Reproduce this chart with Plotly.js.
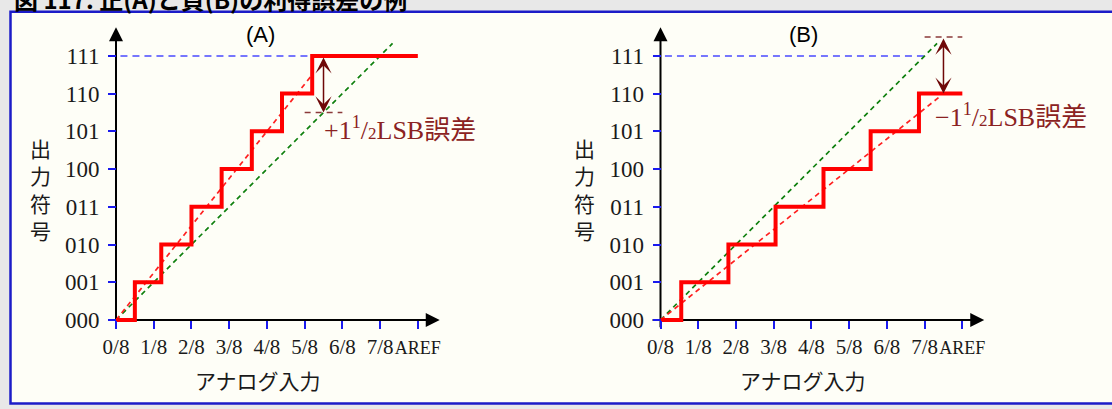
<!DOCTYPE html>
<html>
<head>
<meta charset="utf-8">
<script src="https://cdn.plot.ly/plotly-3.0.1.min.js"></script>
<style>html,body{margin:0;padding:0;background:#e8e8e8;}#chart{width:1112px;height:409px;}</style>
</head>
<body>
<div id="chart"></div>
<script>
// ---- data ----
const xTickVals = [0, 1, 2, 3, 4, 5, 6, 7, 8];
const xTickLabels = ['0/8', '1/8', '2/8', '3/8', '4/8', '5/8', '6/8', '7/8', '<span style="font-size:18px">AREF</span>'];
const codeVals = [0, 1, 2, 3, 4, 5, 6, 7];
const codeLabels = ['000', '001', '010', '011', '100', '101', '110', '111'];

// Panel A: positive gain error
const stepA_x = [0, 0.5, 1.2, 2.0, 2.8, 3.6, 4.4, 5.2, 8.0];
const stepA_code = [0, 1, 2, 3, 4, 5, 6, 7, 7];
const idealA_x = [0, 7.33];
const idealA_y = [0, 7.33];
const gainA_x = [0, 5.2];
const gainA_y = [0, 6.5];
const fullA_x = [-0.2, 5.2];
const fullA_y = [7, 7];
const errA_x = [5.0, 6.0];
const errA_y = [5.5, 5.5];
const errA_arrow = {x: 5.5, from: 7.0, to: 5.5};

// Panel B: negative gain error
const stepB_x = [0, 0.55, 1.8, 3.05, 4.32, 5.57, 6.85, 8.0];
const stepB_code = [0, 1, 2, 3, 4, 5, 6, 6];
const idealB_x = [0, 7.33];
const idealB_y = [0, 7.33];
const gainB_x = [0, 7.45];
const gainB_y = [0, 5.96];
const fullB_x = [-0.2, 7.0];
const fullB_y = [7, 7];
const errB_x = [7.0, 8.0];
const errB_y = [7.5, 7.5];
const errB_arrow = {x: 7.5, from: 7.5, to: 6.0};

const errLabelA = '+1<sup>1</sup>/<span style="font-size:17px">2</span>LSB誤差';
const errLabelB = '\u22121<sup>1</sup>/<span style="font-size:17px">2</span>LSB誤差';

// ---- geometry (pixels) ----
const W = 1112, H = 409;
const unit = 37.73;
const y0px = 320;
const axA = 116, axB = 660.5;
const xr = [-0.6, 8.9], yr = [-0.5, 8.0];
function xdom(x0) { return [(x0 + xr[0]*unit)/W, (x0 + xr[1]*unit)/W]; }
const ydom = [1 - (y0px - yr[0]*unit)/H, 1 - (y0px - yr[1]*unit)/H];

const serif = 'Liberation Serif, Noto Sans CJK JP, serif';
const cjk = 'Noto Sans CJK JP, sans-serif';
const tickBlue = '#1a1aee';

function xaxisDef(x0) {
  return {domain: xdom(x0), range: xr, anchor: 'free', position: 1 - y0px/H,
    showgrid: false, zeroline: false, showline: false,
    tickmode: 'array', tickvals: xTickVals, ticktext: xTickLabels, tickangle: 0,
    ticks: 'outside', ticklen: 8, tickwidth: 2, tickcolor: tickBlue,
    tickfont: {family: serif, size: 21, color: '#1a1a1a'}, fixedrange: true};
}
function yaxisDef(x0) {
  return {domain: ydom, range: yr, anchor: 'free', position: x0/W,
    showgrid: false, zeroline: false, showline: false,
    tickmode: 'array', tickvals: codeVals, ticktext: codeLabels,
    ticks: 'outside', ticklen: 8, tickwidth: 2, tickcolor: tickBlue, ticklabelstandoff: 4,
    tickfont: {family: serif, size: 23, color: '#1a1a1a'}, fixedrange: true};
}

function dashed(x, y, color, dash, xa, ya, w) {
  return {x: x, y: y, xaxis: xa, yaxis: ya, mode: 'lines', hoverinfo: 'skip',
    line: {color: color, width: w || 1.7, dash: dash}, showlegend: false};
}
function stair(x, y, xa, ya) {
  return {x: x, y: y, xaxis: xa, yaxis: ya, mode: 'lines', hoverinfo: 'skip',
    line: {color: '#ff0000', width: 4, shape: 'hv'}, showlegend: false};
}

const green = '#0f800f', red = '#ff2020', blue = '#4a4aff', maroon = '#8b3a3a';
const traces = [
  dashed(fullA_x, fullA_y, blue, '7px,5px', 'x', 'y', 1.5),
  dashed(idealA_x, idealA_y, green, '5px,4px', 'x', 'y'),
  dashed(gainA_x, gainA_y, red, '5px,4px', 'x', 'y'),
  dashed(errA_x, errA_y, maroon, '6px,5px', 'x', 'y', 1.5),
  stair(stepA_x, stepA_code, 'x', 'y'),
  dashed(fullB_x, fullB_y, blue, '7px,5px', 'x2', 'y2', 1.5),
  dashed(idealB_x, idealB_y, green, '5px,4px', 'x2', 'y2'),
  dashed(gainB_x, gainB_y, red, '5px,4px', 'x2', 'y2'),
  dashed(errB_x, errB_y, maroon, '6px,5px', 'x2', 'y2', 1.5),
  stair(stepB_x, stepB_code, 'x2', 'y2')
];

// axis lines (shapes below traces) + arrow heads (annotations)
const shapes = [
  {type: 'rect', xref: 'paper', yref: 'paper', x0: 10.5/W, x1: 1.02, y0: 1 - 403.5/H, y1: 1 - 11.7/H,
   line: {color: '#1c1cc8', width: 2.5}, fillcolor: '#fefef7', layer: 'below'}
];
const annotations = [];
[['x', 'y'], ['x2', 'y2']].forEach(function (p) {
  shapes.push({type: 'line', xref: p[0], yref: p[1], x0: -0.21, x1: 8.4, y0: 0, y1: 0,
    line: {color: '#000', width: 2}, layer: 'below'});
  shapes.push({type: 'line', xref: p[0], yref: p[1], x0: 0, x1: 0, y0: -0.19, y1: 7.6,
    line: {color: '#000', width: 2}, layer: 'below'});
  annotations.push({xref: p[0], yref: p[1], axref: p[0], ayref: p[1], x: 8.58, y: 0, ax: 8.2, ay: 0,
    text: '', showarrow: true, arrowhead: 2, arrowsize: 1.4, arrowwidth: 2, arrowcolor: '#000', standoff: 0});
  annotations.push({xref: p[0], yref: p[1], axref: p[0], ayref: p[1], x: 0, y: 7.76, ax: 0, ay: 7.4,
    text: '', showarrow: true, arrowhead: 2, arrowsize: 1.4, arrowwidth: 2, arrowcolor: '#000', standoff: 0});
});

// error arrows
annotations.push({xref: 'x', yref: 'y', axref: 'x', ayref: 'y', x: errA_arrow.x, y: errA_arrow.to,
  ax: errA_arrow.x, ay: errA_arrow.from, text: '', showarrow: true, arrowside: 'end+start',
  arrowhead: 3, startarrowhead: 3, arrowsize: 1.8, startarrowsize: 1.8, arrowwidth: 1.5, arrowcolor: '#6e0808', standoff: 0, startstandoff: 0});
annotations.push({xref: 'x2', yref: 'y2', axref: 'x2', ayref: 'y2', x: errB_arrow.x, y: errB_arrow.to,
  ax: errB_arrow.x, ay: errB_arrow.from, text: '', showarrow: true, arrowside: 'end+start',
  arrowhead: 3, startarrowhead: 3, arrowsize: 1.8, startarrowsize: 1.8, arrowwidth: 1.5, arrowcolor: '#6e0808', standoff: 0, startstandoff: 0});

// error labels
annotations.push({xref: 'x', yref: 'y', x: (322 - axA)/unit, y: (y0px - 128)/unit, xanchor: 'left', yanchor: 'middle',
  text: errLabelA, showarrow: false, font: {family: serif, size: 26, color: '#8b2222'}});
annotations.push({xref: 'x2', yref: 'y2', x: (933 - axB)/unit, y: (y0px - 115)/unit, xanchor: 'left', yanchor: 'middle',
  text: errLabelB, showarrow: false, font: {family: serif, size: 26, color: '#8b2222'}});

// panel titles and axis titles
[[260, '(A)', 40, 258], [803, '(B)', 584, 803]].forEach(function (d) {
  annotations.push({xref: 'paper', yref: 'paper', x: d[0]/W, y: 1 - 34/H, xanchor: 'center', yanchor: 'middle',
    text: d[1], showarrow: false, font: {family: 'Liberation Sans, Arial, sans-serif', size: 22, color: '#000'}});
  annotations.push({xref: 'paper', yref: 'paper', x: d[2]/W, y: 1 - 189/H, xanchor: 'center', yanchor: 'middle',
    text: '出<br>力<br>符<br>号', showarrow: false, font: {family: cjk, size: 21, color: '#1a1a1a'}});
  annotations.push({xref: 'paper', yref: 'paper', x: d[3]/W, y: 1 - 380/H, xanchor: 'center', yanchor: 'middle',
    text: 'アナログ入力', showarrow: false, font: {family: cjk, size: 21, color: '#1a1a1a'}});
});

// figure caption (cut off at the top of the picture, as in the reference)
annotations.push({xref: 'paper', yref: 'paper', x: 12/W, y: 1 + 1/H, xanchor: 'left', yanchor: 'middle',
  text: '<b>図 117. 正(A)と負(B)の利得誤差の例</b>', showarrow: false,
  font: {family: cjk, size: 24, color: '#000'}});

const layout = {
  width: W, height: H,
  margin: {l: 0, r: 0, t: 0, b: 0, pad: 0},
  paper_bgcolor: '#e8e8e8', plot_bgcolor: 'rgba(0,0,0,0)',
  showlegend: false,
  xaxis: xaxisDef(axA), yaxis: yaxisDef(axA),
  xaxis2: xaxisDef(axB), yaxis2: yaxisDef(axB),
  shapes: shapes, annotations: annotations
};

Plotly.newPlot('chart', traces, layout, {staticPlot: true, displayModeBar: false});
</script>
</body>
</html>
